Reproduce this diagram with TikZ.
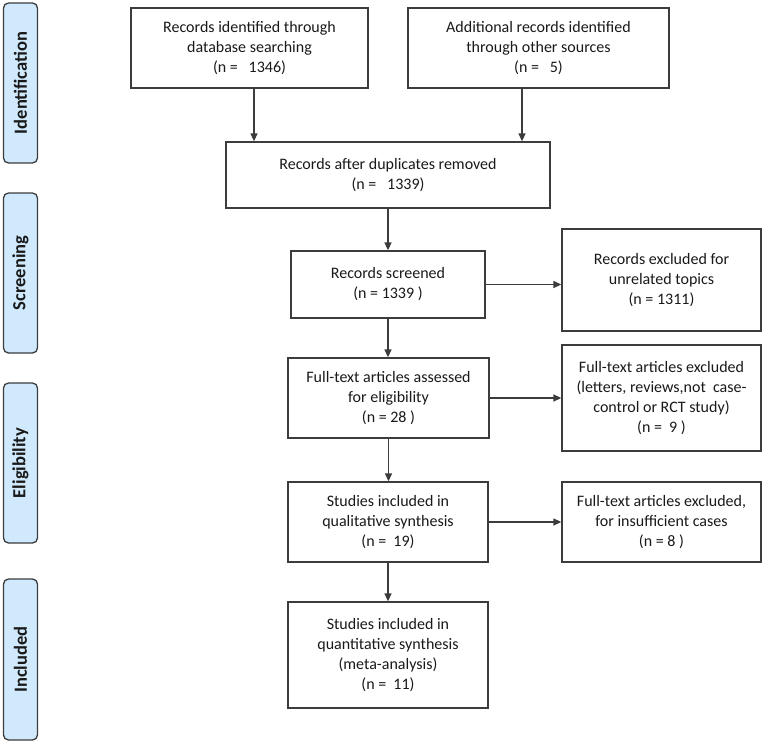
\documentclass[tikz,border=0pt]{standalone}
\usepackage{fontspec}
\setmainfont{Carlito}
\usetikzlibrary{arrows.meta}
\definecolor{pillfill}{RGB}{208,233,252}
\definecolor{linegray}{RGB}{60,60,60}
\definecolor{txt}{RGB}{25,25,25}
\begin{document}
\begin{tikzpicture}[x=1bp,y=-1bp,
  box/.style={draw=linegray, line width=1.3bp, rectangle, inner sep=0pt, align=center,
    text=txt, font=\fontsize{16bp}{20bp}\selectfont},
  pill/.style={draw=linegray, line width=1.3bp, fill=pillfill, rounded corners=5bp,
    inner sep=0pt},
  pilltext/.style={rotate=90, text=txt, font=\fontsize{18.5bp}{20bp}\selectfont\bfseries},
  arr/.style={draw=linegray, line width=1.3bp, -{Triangle[length=8bp,width=7bp]}}]
\useasboundingbox (0,0) rectangle (764,742);
% phase pills
\node[pill, minimum width=34bp, minimum height=160bp] (pid) at (20.5,83) {};
\node[pilltext] (tid) at (pid.center) {Identification};
\node[pill, minimum width=34bp, minimum height=160bp] (psc) at (20.5,273) {};
\node[pilltext] (tsc) at (psc.center) {Screening};
\node[pill, minimum width=34bp, minimum height=160bp] (pel) at (20.5,463) {};
\node[pilltext] (tel) at (pel.center) {Eligibility};
\node[pill, minimum width=34bp, minimum height=161bp] (pin) at (20.5,659.5) {};
\node[pilltext] (tin) at (pin.center) {Included};
% boxes
\node[box, minimum width=237bp, minimum height=80bp] (b1) at (249.5,48)
  {Records identified through\\database searching\\(n =\ \ \ 1346)};
\node[box, minimum width=261bp, minimum height=80bp] (b2) at (538.5,48)
  {Additional records identified\\through other sources\\(n =\ \ \ 5)};
\node[box, minimum width=324bp, minimum height=66bp] (b3) at (388,175)
  {Records after duplicates removed\\(n =\ \ \ 1339)};
\node[box, minimum width=194bp, minimum height=67bp] (b4) at (388,284.5)
  {Records screened\\(n = 1339 )};
\node[box, minimum width=199bp, minimum height=102bp] (b5) at (661.5,280)
  {Records excluded for\\unrelated topics\\(n = 1311)};
\node[box, minimum width=201bp, minimum height=80bp] (b6) at (388.5,398)
  {Full-text articles assessed\\for eligibility\\(n = 28 )};
\node[box, minimum width=199bp, minimum height=106bp] (b7) at (661.5,398)
  {Full-text articles excluded\\(letters, reviews,not\ \ case-\\control or RCT study)\\(n =\ \ 9 )};
\node[box, minimum width=200bp, minimum height=80bp] (b8) at (388,522)
  {Studies included in\\qualitative synthesis\\(n =\ \ 19)};
\node[box, minimum width=199bp, minimum height=80bp] (b9) at (661.5,522)
  {Full-text articles excluded,\\for insufficient cases\\(n = 8 )};
\node[box, minimum width=200bp, minimum height=106bp] (b10) at (388,655)
  {Studies included in\\quantitative synthesis\\(meta-analysis)\\(n =\ \ 11)};
% connectors
\draw[arr] ([xshift=4.5bp]b1.south) -- ([xshift=4.5bp]b1.south |- b3.north);
\draw[arr] ([xshift=-16.5bp]b2.south) -- ([xshift=-16.5bp]b2.south |- b3.north);
\draw[arr] (b3.south) -- (b3.south |- b4.north);
\draw[arr] (b4.east) -- (b4.east -| b5.west);
\draw[arr] (b4.south) -- (b4.south |- b6.north);
\draw[arr] (b6.east) -- (b6.east -| b7.west);
\draw[arr] (b6.south) -- (b6.south |- b8.north);
\draw[arr] (b8.east) -- (b8.east -| b9.west);
\draw[arr] (b8.south) -- (b8.south |- b10.north);
\end{tikzpicture}
\end{document}
